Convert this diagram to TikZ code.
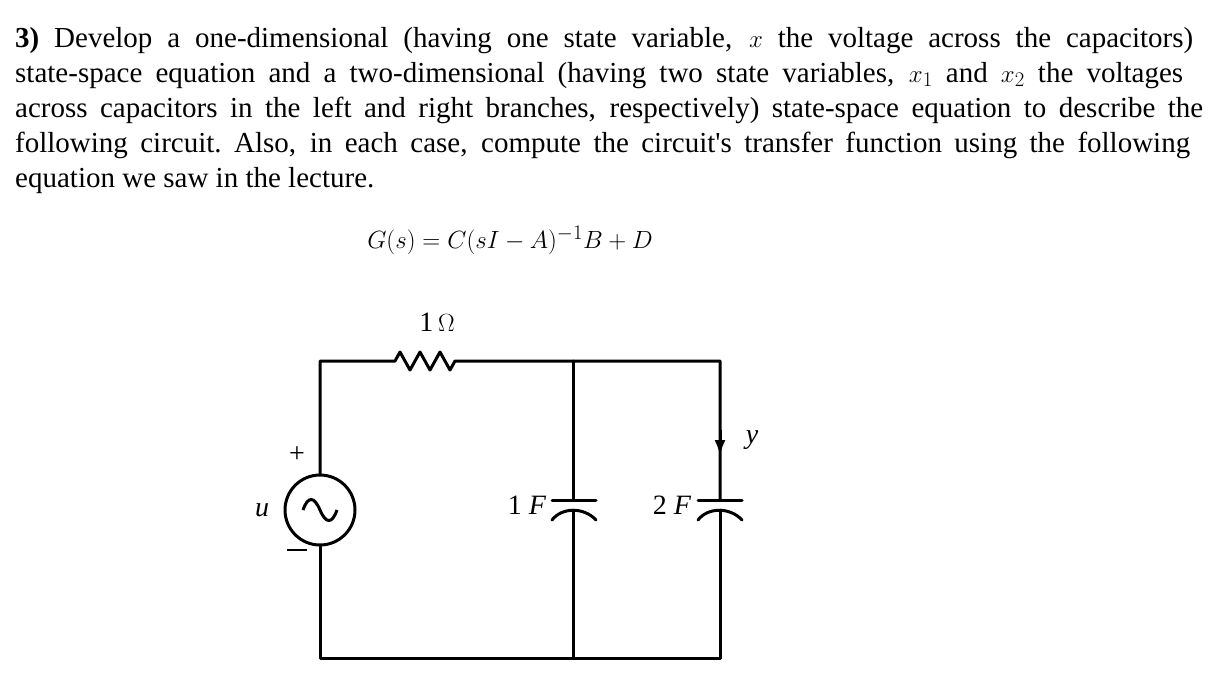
\documentclass[tikz,border=0pt]{standalone}
\usepackage{fontspec}
\setmainfont{Liberation Serif}
\usetikzlibrary{arrows.meta}
\begin{document}
\begin{tikzpicture}[x=1pt,y=-1pt,
  txt/.style={anchor=base west,inner sep=0pt,font=\fontsize{29}{35}\selectfont},
  lbl/.style={inner sep=0pt,font=\fontsize{28}{30}\selectfont},
  wire/.style={line width=3pt,line cap=round,line join=round}]
\useasboundingbox (0,0) rectangle (1229,694);
\node[txt] (l1) at (15,47) {\makebox[1178pt][s]{\textbf{3)} Develop a one-dimensional (having one state variable, $x$ the voltage across the capacitors)}};
\node[txt] (l2) at (15,82) {\makebox[1168pt][s]{state-space equation and a two-dimensional (having two state variables, $x_1$ and $x_2$ the voltages}};
\node[txt] (l3) at (15,117) {\makebox[1188pt][s]{across capacitors in the left and right branches, respectively) state-space equation to describe the}};
\node[txt] (l4) at (15,152) {\makebox[1175pt][s]{following circuit.\ Also, in each case, compute the circuit\textquotesingle s transfer function using the following}};
\node[txt] (l5) at (15,187) {equation we saw in the lecture.};
\node[inner sep=0pt,font=\fontsize{30}{34}\selectfont] (eq) at (510,240) {$G(s)=C(sI-A)^{-1}B+D$};
% circuit
\coordinate (tl) at (320,361); \coordinate (tm) at (573,361); \coordinate (tr) at (720,361);
\coordinate (bl) at (320,658); \coordinate (bm) at (573,658); \coordinate (br) at (720,658);
\node[circle,draw,line width=3pt,minimum size=70pt,inner sep=0pt] (src) at (320,510) {};
\draw[line width=3pt] (303,510) .. controls (308,496) and (314,496) .. (320,510) .. controls (326,524) and (332,524) .. (337,510);
\draw[wire] (src.north) -- (tl) -- (395,361) -- (400,352) -- (410,370) -- (420,352) -- (430,370) -- (440,352) -- (450,370) -- (455,361) -- (tr) -- (720,500);
\draw[wire] (tm) -- (573,500);
\draw[wire] (src.south) -- (bl) -- (br) -- (720,510);
\draw[wire] (bm) -- (573,510);
% capacitors
\draw[wire] (552,500) -- (596,500);
\draw[wire] (552,520) .. controls (562,507) and (584,507) .. (596,520);
\draw[wire] (698,500) -- (742,500);
\draw[wire] (698,520) .. controls (708,507) and (730,507) .. (742,520);
\draw[-{Latex[length=16pt,width=11pt]},line width=3pt] (720,430) -- (720,456);
\node[lbl] (om) at (437,322) {1\,$\Omega$};
\node[lbl] (plus) at (297,455) {+};
\node[lbl] (minus) at (297,550) {\rule{20pt}{1.5pt}};
\node[lbl] (u) at (262,510) {\textit{u}};
\node[lbl] (c1) at (527,505) {1 \textit{F}};
\node[lbl] (c2) at (672,505) {2 \textit{F}};
\node[lbl] (y) at (752,440) {\textit{y}};
\end{tikzpicture}
\end{document}
